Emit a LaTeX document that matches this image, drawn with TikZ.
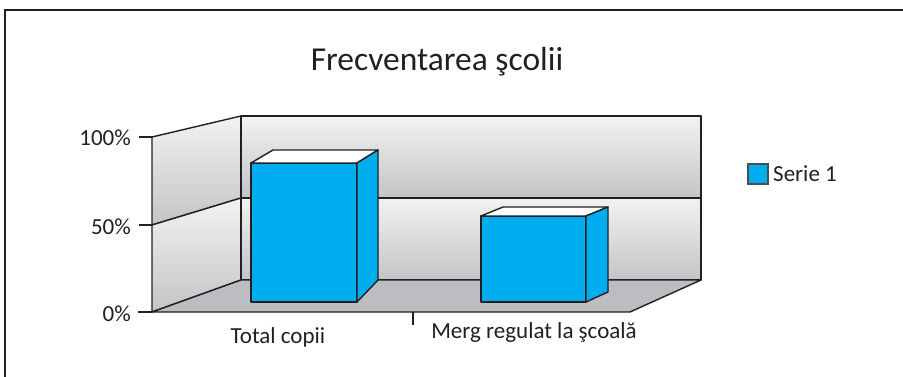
\documentclass[tikz,border=0pt]{standalone}
\usepackage{fontspec}
\setmainfont{Carlito}
\definecolor{barcyan}{HTML}{00AEEF}
\definecolor{edge}{HTML}{231F20}
\definecolor{wallhi}{HTML}{F2F2F3}
\definecolor{walllo}{HTML}{C3C4C6}
\definecolor{floorc}{HTML}{BCBDC0}
\begin{document}
\begin{tikzpicture}[x=1pt,y=-1pt,
  ln/.style={draw=edge,line width=1.4pt,line join=round},
  wall/.style={ln,top color=wallhi,bottom color=walllo},
  barface/.style={ln,fill=barcyan},
  bartop/.style={ln,fill=white},
  lbl/.style={font=\fontsize{23}{26}\selectfont,text=edge,inner sep=0pt},
  frameln/.style={draw=edge,line width=2.8pt}]
\useasboundingbox (0,0) rectangle (903,377);
% outer frame
\draw[frameln] (5,380) -- (5,10) -- (906,10);
% title
\node[lbl,font=\fontsize{33.5}{38}\selectfont] (title) at (437,62) {Frecventarea şcolii};
% walls
\path[wall] (152,137) -- (241,116) -- (241,198) -- (152,225) -- cycle;
\path[wall] (152,225) -- (241,198) -- (241,280) -- (152,312) -- cycle;
\path[wall] (241,116) rectangle (701,198);
\path[wall] (241,198) rectangle (701,280);
% floor
\path[ln,fill=floorc] (152,312) -- (241,280) -- (701,280) -- (630,312) -- cycle;
% ticks
\draw[ln] (139,137) -- (152,137);
\draw[ln] (139,225) -- (152,225);
\draw[ln] (138,312) -- (152,312);
\draw[ln] (413,312) -- (413,325);
% tick labels
\node[lbl,anchor=east] (y100) at (131,138) {100\%};
\node[lbl,anchor=east] (y50) at (131,227) {50\%};
\node[lbl,anchor=east] (y0) at (131,314) {0\%};
% bar 1
\path[barface] (251,163) rectangle (357,302);
\path[bartop] (251,163) -- (273,150) -- (378,150) -- (357,163) -- cycle;
\path[barface] (357,163) -- (378,150) -- (378,280) -- (357,302) -- cycle;
% bar 2
\path[barface] (481,216) rectangle (586,302);
\path[bartop] (481,216) -- (503,207) -- (608,207) -- (586,216) -- cycle;
\path[barface] (586,216) -- (608,207) -- (608,292) -- (586,302) -- cycle;
% category labels
\node[lbl] (c1) at (278,337) {Total copii};
\node[lbl] (c2) at (534,332) {Merg regulat la şcoală};
% legend
\path[draw=edge!80,line width=1.2pt,fill=barcyan] (748,164) rectangle (768,184);
\node[lbl,anchor=west] (leg) at (773,174) {Serie 1};
\end{tikzpicture}
\end{document}
